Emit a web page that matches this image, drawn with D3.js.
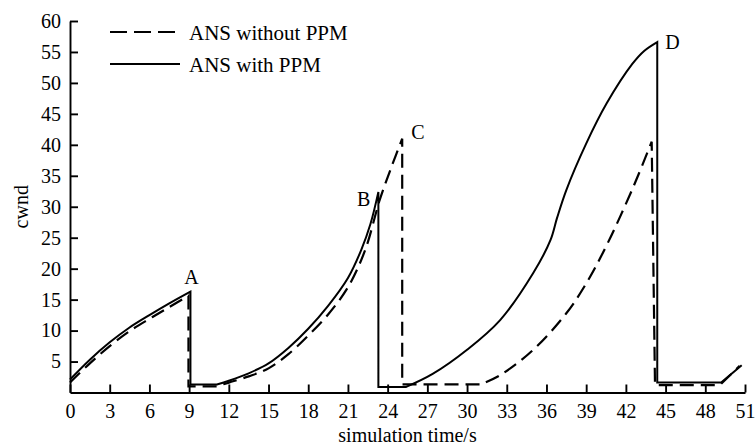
<!DOCTYPE html>
<html>
<head>
<meta charset="utf-8">
<script src="https://cdn.jsdelivr.net/npm/d3@7"></script>
<style>
  body { margin: 0; background: #fff; }
  svg text { font-family: "Liberation Serif", "DejaVu Serif", serif; fill: #000; }
</style>
</head>
<body>
<div id="chart"></div>
<script>
// cwnd samples, one array per rise (time in s, cwnd)
// after the first one, each array starts with the bottom of the drop and the end of the flat part
const withPPM = [
  [[0, 2.1], [1.5, 5.3], [3, 8.1], [4.5, 10.5], [6, 12.5], [7.5, 14.4], [9.1, 16.3]],
  [[9.1, 1.3], [11.1, 1.3], [12, 1.9], [13.5, 3.1], [15, 4.7], [16.5, 7.2], [18, 10.3],
   [19.5, 14], [21, 18.5], [22, 23], [22.7, 27.2], [23.3, 32.4]],
  [[23.3, 0.9], [25.4, 0.9], [27.4, 3.0], [30, 6.9], [32.5, 11.7], [35, 19.3], [36.3, 24.6],
   [36.8, 28.2], [37.5, 32.7], [39, 40.2], [40.55, 46.7], [42.5, 53.1], [43.4, 55.2], [44.37, 56.6]],
  [[44.37, 1.6], [49.2, 1.6], [50.75, 4.4]]
];

const withoutPPM = [
  [[0, 1.6], [1.5, 4.7], [3, 7.5], [4.5, 9.9], [6, 11.9], [7.5, 13.8], [8.95, 15.6]],
  [[8.95, 1.0], [11.1, 1.0], [12, 1.6], [13.5, 2.6], [15, 3.9], [16.5, 6.2], [18, 9.2],
   [19.5, 12.6], [21, 17], [22.3, 23], [23.4, 31.1], [24.3, 36.5], [25.1, 41]],
  [[25.1, 1.3], [31, 1.3], [32.5, 2.8], [35, 6.9], [37.5, 12.8], [39, 17.6], [40.55, 23.8],
   [42.56, 33.2], [43.95, 40.5]],
  [[44.2, 1.2], [49.1, 1.2], [50.6, 4.3]]
];

const peakLabels = [
  { text: "A", t: 9.1, v: 16.3, dx: 1, dy: -8, anchor: "middle" },
  { text: "B", t: 23.3, v: 32.4, dx: -8, dy: 14, anchor: "end" },
  { text: "C", t: 25.1, v: 41, dx: 9, dy: 0, anchor: "start" },
  { text: "D", t: 44.37, v: 56.6, dx: 8, dy: 7, anchor: "start" }
];

const xTicks = [0, 3, 6, 9, 12, 15, 18, 21, 24, 27, 30, 33, 36, 39, 42, 45, 48, 51];
const yTicks = [5, 10, 15, 20, 25, 30, 35, 40, 45, 50, 55, 60];

const legendItems = [
  { label: "ANS without PPM", dash: "17,7" },
  { label: "ANS with PPM", dash: null }
];

const width = 756;
const height = 445;

const x = d3.scaleLinear().domain([0, 51]).range([70, 745]);
const y = d3.scaleLinear().domain([0, 60]).range([392.5, 21]);

const svg = d3.select("#chart").append("svg").attr("width", width).attr("height", height);

// Axes with inward ticks
const xAxis = d3.axisBottom(x).tickValues(xTicks).tickSizeInner(-8).tickSizeOuter(0).tickPadding(11);
const yAxis = d3.axisLeft(y).tickValues(yTicks).tickSizeInner(-8).tickSizeOuter(0).tickPadding(9);

const gx = svg.append("g").attr("transform", `translate(0,${y(0)})`).call(xAxis);
const gy = svg.append("g").attr("transform", `translate(${x(0)},0)`).call(yAxis);

[gx, gy].forEach((g) => {
  g.selectAll("path, line").attr("stroke", "#000").attr("stroke-width", 1.9);
  g.selectAll("text").attr("font-size", 20);
});

// Axis titles
svg.append("text")
  .attr("x", (x(0) + x(51)) / 2)
  .attr("y", 442)
  .attr("text-anchor", "middle")
  .attr("font-size", 20)
  .text("simulation time/s");

svg.append("text")
  .attr("transform", `translate(28,${(y(0) + y(60)) / 2}) rotate(-90)`)
  .attr("text-anchor", "middle")
  .attr("font-size", 20)
  .text("cwnd");

// Series: first rise is a curve, later ones drop straight down, run flat, then curve up
const line = d3.line().x((d) => x(d[0])).y((d) => y(d[1])).curve(d3.curveCatmullRom.alpha(0.5));

function seriesPath(segments) {
  return segments.map((seg, i) => {
    if (i === 0) return line(seg);
    const [bottom, ...rise] = seg;
    return `L${x(bottom[0])},${y(bottom[1])}L` + line(rise).slice(1);
  }).join("");
}

svg.append("path")
  .attr("d", seriesPath(withoutPPM))
  .attr("fill", "none")
  .attr("stroke", "#000")
  .attr("stroke-width", 2.2)
  .attr("stroke-dasharray", "14,7");

svg.append("path")
  .attr("d", seriesPath(withPPM))
  .attr("fill", "none")
  .attr("stroke", "#000")
  .attr("stroke-width", 2);

// Peak labels
svg.selectAll(".peak")
  .data(peakLabels)
  .enter()
  .append("text")
  .attr("class", "peak")
  .attr("x", (d) => x(d.t) + d.dx)
  .attr("y", (d) => y(d.v) + d.dy)
  .attr("text-anchor", (d) => d.anchor)
  .attr("font-size", 20)
  .text((d) => d.text);

// Legend
const legend = svg.append("g").attr("transform", "translate(110,32)");
legendItems.forEach((item, i) => {
  const g = legend.append("g").attr("transform", `translate(0,${i * 32})`);
  g.append("line")
    .attr("x1", 0).attr("x2", 70)
    .attr("stroke", "#000")
    .attr("stroke-width", 2.2)
    .attr("stroke-dasharray", item.dash);
  g.append("text")
    .attr("x", 79)
    .attr("y", 7.5)
    .attr("font-size", 21)
    .text(item.label);
});
</script>
</body>
</html>
